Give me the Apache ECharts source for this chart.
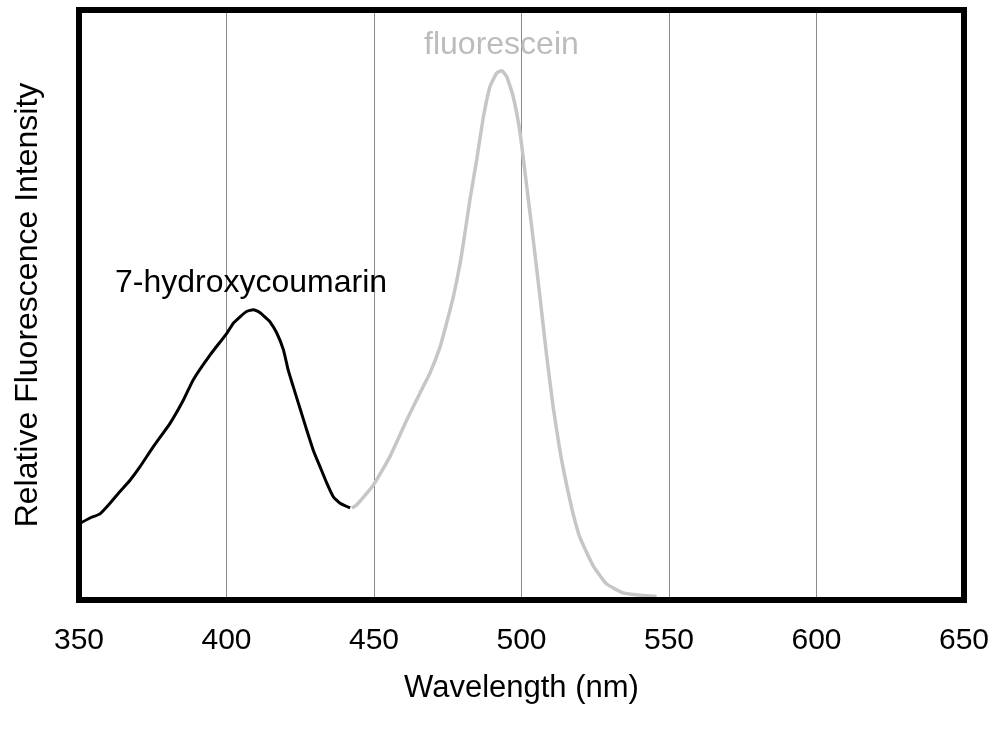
<!DOCTYPE html>
<html>
<head>
<meta charset="utf-8">
<script src="https://cdn.jsdelivr.net/npm/echarts@6/dist/echarts.min.js"></script>
<style>
html,body{margin:0;padding:0;background:#fff;}
#chart{width:1008px;height:733px;}
</style>
</head>
<body>
<div id="chart"></div>
<script>
// Wavelength ticks (nm)
const xTicks = [350, 400, 450, 500, 550, 600, 650];

// 7-hydroxycoumarin emission: wavelength (nm) and relative intensity
const coumarinWl = [350, 353.7, 357.1, 360.5, 363.9, 367.3, 370.7, 375.2, 380.8, 385.4, 388.7, 394.4, 400.1, 402.3, 404.6, 406.8, 409.1, 411.4, 413.6, 414.7, 417.0, 419.3, 420.9, 422.6, 424.9, 427.2, 429.4, 431.7, 434.0, 436.2, 438.5, 441.9];
const coumarinVal = [0.129, 0.139, 0.146, 0.164, 0.184, 0.203, 0.226, 0.260, 0.299, 0.339, 0.373, 0.415, 0.452, 0.469, 0.480, 0.489, 0.492, 0.487, 0.477, 0.472, 0.453, 0.424, 0.390, 0.362, 0.325, 0.288, 0.254, 0.226, 0.198, 0.175, 0.164, 0.156];

// Fluorescein emission
const fluorWl = [442.5, 444.1, 449.8, 455.4, 461.1, 465.6, 469.0, 472.4, 474.6, 476.9, 479.2, 480.8, 482.5, 484.8, 487.1, 489.3, 491.6, 493.3, 495.0, 497.2, 499.5, 501.8, 504.0, 506.3, 508.5, 510.8, 513.1, 515.3, 517.6, 519.8, 524.3, 528.9, 534.5, 540.2, 545.8];
const fluorVal = [0.156, 0.161, 0.195, 0.243, 0.305, 0.351, 0.385, 0.429, 0.469, 0.514, 0.571, 0.621, 0.678, 0.746, 0.819, 0.870, 0.893, 0.897, 0.887, 0.853, 0.792, 0.700, 0.610, 0.512, 0.415, 0.325, 0.251, 0.195, 0.144, 0.106, 0.058, 0.027, 0.012, 0.008, 0.006];

// Series labels and where they sit (data units)
const labelNames = ['7-hydroxycoumarin', 'fluorescein'];
const labelPos = [[408.3, 0.537], [493.2, 0.94]];

const zip = (a, b) => a.map((v, i) => [v, b[i]]);
const FONT = 'Liberation Sans, Arial, sans-serif';

const chart = echarts.init(document.getElementById('chart'), null, {renderer: 'canvas'});
chart.setOption({
  animation: false,
  backgroundColor: '#fff',
  grid: {
    left: 79, right: 44, top: 10, bottom: 133,
    show: true, borderColor: '#000', borderWidth: 6, backgroundColor: 'transparent',
    z: 5
  },
  xAxis: {
    type: 'value', min: 350, max: 650, interval: 50,
    name: 'Wavelength (nm)', nameLocation: 'middle', nameGap: 73,
    nameTextStyle: {fontFamily: FONT, fontSize: 31, color: '#000'},
    axisLine: {show: false}, axisTick: {show: false},
    axisLabel: {fontFamily: FONT, fontSize: 30, color: '#000', margin: 26,
      formatter: v => xTicks.includes(v) ? String(v) : ''},
    splitLine: {show: true, lineStyle: {color: '#8a8a8a', width: 1}}
  },
  yAxis: {
    type: 'value', min: 0, max: 1,
    name: 'Relative Fluorescence Intensity', nameLocation: 'middle', nameGap: 35,
    nameTextStyle: {fontFamily: FONT, fontSize: 32, color: '#000'},
    axisLine: {show: false}, axisTick: {show: false}, axisLabel: {show: false},
    splitLine: {show: false}
  },
  series: [
    {
      name: labelNames[0], type: 'line', data: zip(coumarinWl, coumarinVal),
      showSymbol: false, smooth: 0.15, z: 3,
      lineStyle: {color: '#000', width: 3},
      markPoint: {
        symbol: 'circle', symbolSize: 0,
        label: {show: true, formatter: labelNames[0], fontFamily: FONT, fontSize: 32, color: '#000', position: 'inside'},
        data: [{coord: labelPos[0]}]
      }
    },
    {
      name: labelNames[1], type: 'line', data: zip(fluorWl, fluorVal),
      showSymbol: false, smooth: 0.15, z: 2,
      lineStyle: {color: '#c6c6c6', width: 3.5},
      markPoint: {
        symbol: 'circle', symbolSize: 0,
        label: {show: true, formatter: labelNames[1], fontFamily: FONT, fontSize: 32, color: '#bcbcbc', position: 'inside'},
        data: [{coord: labelPos[1]}]
      }
    }
  ]
});
</script>
</body>
</html>
